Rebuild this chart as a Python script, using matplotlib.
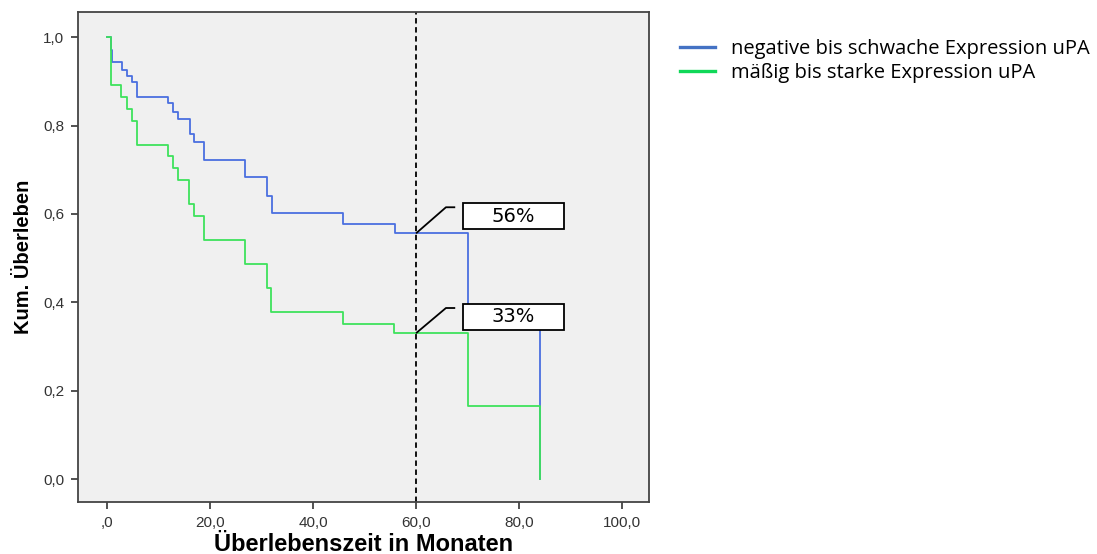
import matplotlib
matplotlib.use("Agg")
import matplotlib.pyplot as plt
from matplotlib.patches import Rectangle
from matplotlib.lines import Line2D

# -----------------------------
# Kaplan-Meier steps (months, cumulative survival)
# -----------------------------

blue_t = [0, 0.9, 1.0, 2.9, 3.9, 4.8, 5.9, 11.8, 12.9, 13.9, 16.1, 16.9, 18.9,
          26.8, 31.0, 32.0, 45.9, 55.9, 70.0, 84.0]
blue_s = [1.0, 0.971, 0.943, 0.925, 0.912, 0.898, 0.864, 0.850, 0.831, 0.814,
          0.780, 0.762, 0.723, 0.683, 0.641, 0.601, 0.577, 0.556, 0.370, 0.0]

green_t = [0, 0.8, 2.8, 3.9, 4.8, 5.8, 11.8, 12.9, 13.8, 15.9, 16.9, 18.8,
           26.8, 31.0, 31.8, 45.9, 55.8, 70.0, 84.0]
green_s = [1.0, 0.892, 0.865, 0.838, 0.811, 0.757, 0.730, 0.703, 0.676, 0.622,
           0.595, 0.541, 0.486, 0.432, 0.378, 0.351, 0.330, 0.165, 0.0]

labels = ["negative bis schwache Expression uPA", "mäßig bis starke Expression uPA"]
marker_month = 60
marker_labels = ["56%", "33%"]

x_ticks = [0, 20, 40, 60, 80, 100]
x_ticklabels = [",0", "20,0", "40,0", "60,0", "80,0", "100,0"]
y_ticks = [0.0, 0.2, 0.4, 0.6, 0.8, 1.0]
y_ticklabels = ["0,0", "0,2", "0,4", "0,6", "0,8", "1,0"]

blue = "#4a6fe0"
green = "#3ee25c"

# -----------------------------
# Figure
# -----------------------------

fig = plt.figure(figsize=(10.97, 5.54), dpi=100)
ax = fig.add_axes([0.0711, 0.0939, 0.5205, 0.8845])
ax.set_facecolor("#f0f0f0")

ax.step(blue_t, blue_s, where="post", color=blue, lw=1.3)
ax.step(green_t, green_s, where="post", color=green, lw=1.3)

ax.axvline(marker_month, color="black", ls=(0, (3, 2)), lw=1.3)

# value callouts at 60 months
s_blue = blue_s[[i for i, t in enumerate(blue_t) if t <= marker_month][-1]]
s_green = green_s[[i for i, t in enumerate(green_t) if t <= marker_month][-1]]
for s, txt, top in [(s_blue, marker_labels[0], 0.624),
                    (s_green, marker_labels[1], 0.396)]:
    knee = top - 0.009
    ax.plot([marker_month, 65.8, 67.6], [s, knee, knee], color="black", lw=1.3,
            solid_capstyle="butt")
    ax.add_patch(Rectangle((69.1, top - 0.058), 19.6, 0.058, facecolor="white",
                           edgecolor="black", lw=1.3, zorder=5))
    ax.text(78.9, top - 0.029, txt, ha="center", va="center", fontsize=14,
            family="DejaVu Sans", zorder=6)

ax.set_xlim(-5.6, 105.2)
ax.set_ylim(-0.052, 1.057)
ax.set_xticks(x_ticks)
ax.set_xticklabels(x_ticklabels)
ax.set_yticks(y_ticks)
ax.set_yticklabels(y_ticklabels)
ax.tick_params(direction="out", length=5, width=1.2, color="#333333",
               labelsize=11, labelcolor="#333333", pad=5)
for lab in ax.get_xticklabels() + ax.get_yticklabels():
    lab.set_family("Liberation Sans")
for sp in ax.spines.values():
    sp.set_color("#444444")
    sp.set_linewidth(1.3)

ax.set_xlabel("Überlebenszeit in Monaten", family="Liberation Sans",
              fontsize=17, fontweight="bold", labelpad=2)
ax.set_ylabel("Kum. Überleben", family="Liberation Sans",
              fontsize=14.5, fontweight="bold", labelpad=7)

handles = [Line2D([], [], color="#4472c4", lw=2.4),
           Line2D([], [], color="#10d858", lw=2.4)]
fig.legend(handles, labels, loc="upper left", bbox_to_anchor=(0.62, 0.93),
           frameon=False, prop={"family": "Open Sans", "size": 14.5},
           handlelength=1.75, handletextpad=0.8, labelspacing=0.22,
           borderaxespad=0, borderpad=0)

fig.savefig("out.png", dpi=100, facecolor="white")
